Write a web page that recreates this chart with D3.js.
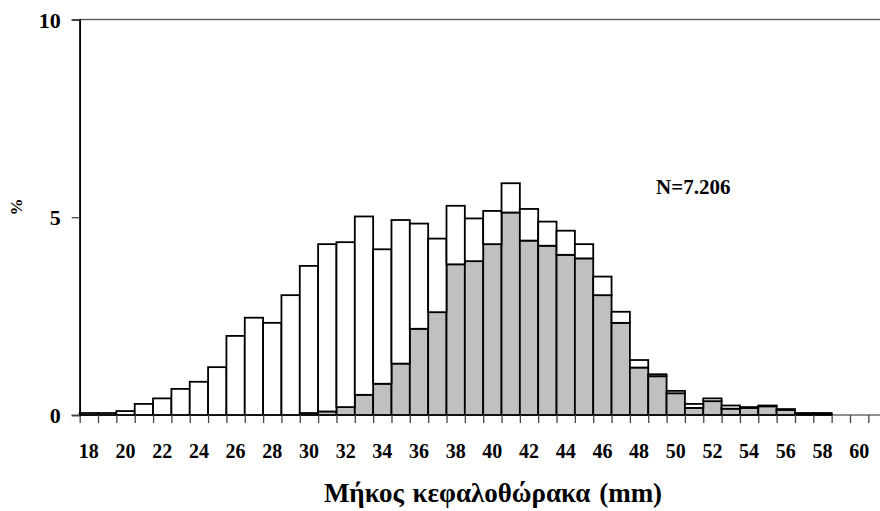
<!DOCTYPE html>
<html lang="el">
<head>
    <meta charset="UTF-8">
    <title>Μήκος κεφαλοθώρακα</title>
    <script src="https://cdn.jsdelivr.net/npm/d3@7"></script>
    <style>
        body{margin: 0; background: #fff}
        svg text{font-family: "Liberation Serif", "Times New Roman", serif; font-weight: bold; fill: #000}
        svg .bar{stroke: #000; stroke-width: 1.8}
    </style>
</head>
<body>
    <svg></svg>
    <script>
        // carapace length classes (mm)
        var categories = [18, 19, 20, 21, 22, 23, 24, 25, 26, 27, 28, 29, 30, 31, 32, 33, 34, 35, 36, 37, 38, 39,
            40, 41, 42, 43, 44, 45, 46, 47, 48, 49, 50, 51, 52, 53, 54, 55, 56, 57, 58, 59, 60]
        // lower (grey) series, %
        var greyValues = [0, 0, 0, 0, 0, 0, 0, 0, 0, 0, 0, 0, 0.05, 0.09, 0.2, 0.51, 0.79, 1.30, 2.18, 2.60, 3.81, 3.89,
            4.32, 5.12, 4.41, 4.28, 4.05, 3.96, 3.03, 2.33, 1.20, 0.98, 0.55, 0.18, 0.35, 0.16, 0.18, 0.22, 0.13, 0.02, 0.02, 0, 0]
        // upper (white) series, %
        var whiteValues = [0.05, 0.05, 0.1, 0.28, 0.42, 0.66, 0.84, 1.21, 2.0, 2.46, 2.33, 3.03, 3.72, 4.23, 4.17, 4.51, 3.40, 3.63, 2.66, 1.86, 1.48, 1.08,
            0.84, 0.74, 0.80, 0.61, 0.61, 0.36, 0.47, 0.28, 0.19, 0.05, 0.06, 0.10, 0.07, 0.08, 0.02, 0.02, 0.02, 0.03, 0.03, 0, 0]
        var xTickLabels = [18, 20, 22, 24, 26, 28, 30, 32, 34, 36, 38, 40, 42, 44, 46, 48, 50, 52, 54, 56, 58, 60]
        var yTicks = [0, 5, 10]

        var width = 880, height = 511
        var plotLeft = 79.7, step = 18.34
        var plotTop = 19.5, plotBottom = 415

        var svg = d3.select('svg')
            .attr('width', width)
            .attr('height', height)

        // scales
        var xScale = d3.scaleBand()
            .domain(categories)
            .range([plotLeft, plotLeft + categories.length * step])
            .padding(0)
        var xEdges = d3.scaleLinear()
            .domain([categories[0] - 0.5, categories[categories.length - 1] + 0.5])
            .range(xScale.range())
        var yScale = d3.scaleLinear()
            .domain([0, 10])
            .range([plotBottom, plotTop])

        // plot frame (right side runs out of the picture)
        svg.append('rect')
            .attr('x', plotLeft)
            .attr('y', plotTop)
            .attr('width', (categories.length + 1) * step)
            .attr('height', plotBottom - plotTop)
            .attr('fill', 'none')
            .attr('stroke', '#555')
            .attr('stroke-width', 1.3)

        // stacked bars
        var table = categories.map((c, i) => ({cat: c, grey: greyValues[i], white: whiteValues[i]}))
        var series = d3.stack().keys(['grey', 'white'])(table)
        var fills = {grey: '#c0c0c0', white: '#ffffff'}

        series.forEach(s => {
            svg.append('g')
                .selectAll('rect')
                .data(s.filter(d => d[1] - d[0] > 0))
                .enter()
                .append('rect')
                .attr('class', 'bar')
                .attr('fill', fills[s.key])
                .attr('x', d => xScale(d.data.cat))
                .attr('width', xScale.bandwidth())
                .attr('y', d => yScale(d[1]))
                .attr('height', d => yScale(d[0]) - yScale(d[1]))
        })

        // x axis: tick marks between classes
        var xTickAxis = d3.axisBottom(xEdges)
            .tickValues(d3.range(categories[0] - 0.5, categories[categories.length - 1] + 1, 1))
            .tickSize(8)
            .tickFormat('')
        svg.append('g')
            .attr('transform', `translate(0, ${plotBottom})`)
            .call(xTickAxis)
            .call(g => g.select('.domain').remove())
            .call(g => g.selectAll('line').attr('stroke', '#444').attr('stroke-width', 1.3))

        // x axis labels
        var xLabelAxis = d3.axisBottom(xScale)
            .tickValues(xTickLabels)
            .tickSize(0)
            .tickPadding(0)
        svg.append('g')
            .attr('transform', `translate(0, ${plotBottom})`)
            .call(xLabelAxis)
            .call(g => g.select('.domain').remove())
            .call(g => g.selectAll('text')
                .attr('dy', null)
                .attr('y', 43)
                .style('font-size', '22px')
                .attr('textLength', 20)
                .attr('lengthAdjust', 'spacingAndGlyphs'))

        // y axis
        var yAxis = d3.axisLeft(yScale)
            .tickValues(yTicks)
            .tickSize(8)
            .tickPadding(11)
        svg.append('g')
            .attr('transform', `translate(${plotLeft}, 0)`)
            .call(yAxis)
            .call(g => g.select('.domain').attr('stroke', '#000').attr('stroke-width', 1.6))
            .call(g => g.selectAll('line').attr('stroke', '#444').attr('stroke-width', 1.3))
            .call(g => g.selectAll('text').style('font-size', '22px').attr('dy', '0.35em'))

        // axis titles
        svg.append('text')
            .attr('transform', 'translate(22, 207) rotate(-90)')
            .attr('text-anchor', 'middle')
            .style('font-size', '17px')
            .text('%')

        svg.append('text')
            .attr('x', 493)
            .attr('y', 502)
            .attr('text-anchor', 'middle')
            .style('font-size', '27px')
            .style('word-spacing', '2px')
            .text('Μήκος κεφαλοθώρακα (mm)')

        svg.append('text')
            .attr('x', 656)
            .attr('y', 194)
            .style('font-size', '21px')
            .text('N=7.206')
    </script>
</body>
</html>
